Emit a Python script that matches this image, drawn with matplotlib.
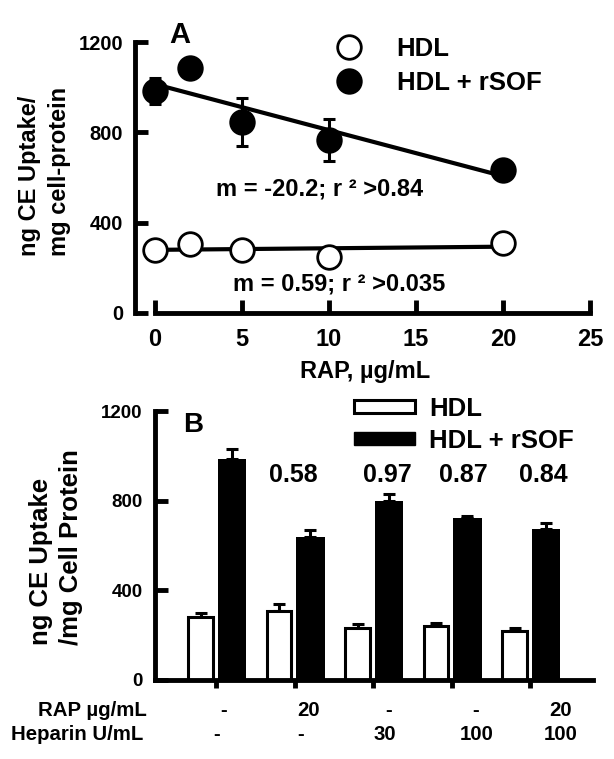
import numpy as np
import matplotlib
matplotlib.use('Agg')
import matplotlib.pyplot as plt
from matplotlib.patches import Patch

plt.rcParams['font.family'] = ['Liberation Sans', 'DejaVu Sans']
plt.rcParams['font.weight'] = 'bold'
plt.rcParams['axes.labelweight'] = 'bold'

# ---------------- data: panel A ----------------
rap_conc = [0, 2, 5, 10, 20]
hdl_a = [279, 306, 279, 249, 311]
rsof_a = [984, 1083, 847, 766, 633]
rsof_a_err = [57, 0, 106, 95, 0]
fit_labels = ['m = -20.2; r \u00b2 >0.84', 'm = 0.59; r \u00b2 >0.035']
a_xticks = [0, 5, 10, 15, 20, 25]
yticks = [0, 400, 800, 1200]
series_labels = ['HDL', 'HDL + rSOF']

# ---------------- data: panel B ----------------
groups = [0, 1, 2, 3, 4]
hdl_b = [280, 307, 231, 243, 217]
hdl_b_err = [20, 31, 18, 12, 14]
rsof_b = [985, 637, 798, 724, 674]
rsof_b_err = [45, 33, 32, 8, 27]
ratio_labels = ['0.58', '0.97', '0.87', '0.84']
rap_row = ['-', '20', '-', '-', '20']
heparin_row = ['-', '-', '30', '100', '100']
row_titles = ['RAP \u00b5g/mL', 'Heparin U/mL']

# layout helpers (positions only)
ratio_x = [0.98, 2.18, 3.15, 4.17]
rap_row_x = [0.09, 1.17, 2.19, 3.30, 4.39]
hep_row_x = [0.01, 1.07, 2.15, 3.32, 4.39]

W, H = 614, 759
fig = plt.figure(figsize=(W / 100, H / 100), dpi=100)

SP = 3.5  # spine width

# ================= Panel A =================
axA = fig.add_axes([135 / W, 1 - 313 / H, 460 / W, 271 / H])
axA.set_xlim(-1.15, 25.29)
axA.set_ylim(0, 1200)
for s in ['top', 'right']:
    axA.spines[s].set_visible(False)
for s in ['left', 'bottom']:
    axA.spines[s].set_linewidth(SP)
axA.spines['bottom'].set_bounds(0, 25)
axA.spines['left'].set_bounds(0, 1200)
axA.set_xticks(a_xticks)
axA.set_yticks(yticks)
axA.tick_params(axis='both', direction='in', width=SP, length=9.3)
axA.tick_params(axis='x', labelsize=17, pad=11)
axA.tick_params(axis='y', labelsize=14.5, pad=8.6)

x = np.array(rap_conc, dtype=float)
for ydata in (rsof_a, hdl_a):
    coef = np.polyfit(x, np.array(ydata, dtype=float), 1)
    xs = np.array([x.min(), x.max()])
    axA.plot(xs, np.polyval(coef, xs), '-', color='k', lw=3, zorder=2)

axA.errorbar(rap_conc, rsof_a, yerr=rsof_a_err, fmt='none', ecolor='k',
             elinewidth=2.2, capsize=4.3, capthick=2.2, zorder=3)
l_hdl, = axA.plot(rap_conc, hdl_a, 'o', ms=17, mfc='white', mec='k', mew=2,
                  zorder=4, clip_on=False)
l_rsof, = axA.plot(rap_conc, rsof_a, 'o', ms=17, mfc='k', mec='k', mew=2,
                   zorder=4, clip_on=False)

axA.legend([l_hdl, l_rsof], series_labels, loc='upper left',
           bbox_to_anchor=(336 / W, 1 - 37 / H), bbox_transform=fig.transFigure,
           frameon=False, fontsize=18.5, handlelength=1.0, handletextpad=1.36,
           labelspacing=0.39, borderpad=0, borderaxespad=0, numpoints=1)

axA.text(9.45, 549, fit_labels[0], ha='center', va='center', fontsize=17)
axA.text(10.6, 128, fit_labels[1], ha='center', va='center', fontsize=17)
axA.text(1.44, 1196, 'A', ha='center', va='baseline', fontsize=21, clip_on=False)

axA.set_xlabel('RAP, \u00b5g/mL', fontsize=17, labelpad=6)
axA.set_ylabel('ng CE Uptake/\nmg cell-protein', fontsize=17, linespacing=1.4,
               multialignment='left', va='center', ha='center')
axA.yaxis.set_label_coords(-0.197, 0.524)

# ================= Panel B =================
axB = fig.add_axes([155 / W, 1 - 680 / H, 438 / W, 269 / H])
axB.set_xlim(-0.78, 4.8)
axB.set_ylim(0, 1200)
for s in ['top', 'right']:
    axB.spines[s].set_visible(False)
for s in ['left', 'bottom']:
    axB.spines[s].set_linewidth(SP)
axB.spines['left'].set_bounds(0, 1200)
axB.set_yticks(yticks)
axB.set_xticks(groups)
axB.set_xticklabels([''] * len(groups))
axB.tick_params(axis='y', direction='in', width=SP, length=9.5, labelsize=13.5, pad=9)
axB.tick_params(axis='x', direction='out', width=SP, length=6)

g = np.array(groups, dtype=float)
ekw = dict(elinewidth=2.2, capsize=4.3, capthick=2.2, ecolor='k')
axB.bar(g - 0.2, hdl_b, width=0.31, color='white', edgecolor='k', linewidth=2.2,
        zorder=2)
axB.errorbar(g - 0.2, hdl_b, yerr=[np.zeros(len(hdl_b)), hdl_b_err], fmt='none',
             zorder=1, **ekw)
axB.bar(g + 0.2, rsof_b, width=0.36, color='k', edgecolor='k', linewidth=0,
        zorder=2)
axB.errorbar(g + 0.2, rsof_b, yerr=[np.zeros(len(rsof_b)), rsof_b_err], fmt='none',
             zorder=1, **ekw)

handles = [Patch(facecolor='white', edgecolor='k', linewidth=2.2),
           Patch(facecolor='k', edgecolor='k')]
axB.legend(handles, series_labels, loc='upper left',
           bbox_to_anchor=(354 / W, 1 - 397 / H), bbox_transform=fig.transFigure,
           frameon=False, fontsize=18.5, handlelength=2.37, handleheight=0.4,
           handletextpad=0.54, labelspacing=0.31, borderpad=0, borderaxespad=0)

for xr, lab in zip(ratio_x, ratio_labels):
    axB.text(xr, 914, lab, ha='center', va='center', fontsize=18)

axB.text(-0.30, 1106, 'B', ha='center', va='baseline', fontsize=20, clip_on=False)

for xr, lab in zip(rap_row_x, rap_row):
    axB.text(xr, -134, lab, ha='center', va='center', fontsize=14.7, clip_on=False)
for xr, lab in zip(hep_row_x, heparin_row):
    axB.text(xr, -245, lab, ha='center', va='center', fontsize=14.7, clip_on=False)
axB.text(-0.88, -134, row_titles[0], ha='right', va='center', fontsize=14.7, clip_on=False)
axB.text(-0.93, -245, row_titles[1], ha='right', va='center', fontsize=14.7, clip_on=False)

axB.set_ylabel('ng CE Uptake\n/mg Cell Protein', fontsize=18.5, linespacing=1.31,
               multialignment='left', va='center', ha='center')
axB.yaxis.set_label_coords(-0.226, 0.496)

fig.savefig('out.png', dpi=100)
